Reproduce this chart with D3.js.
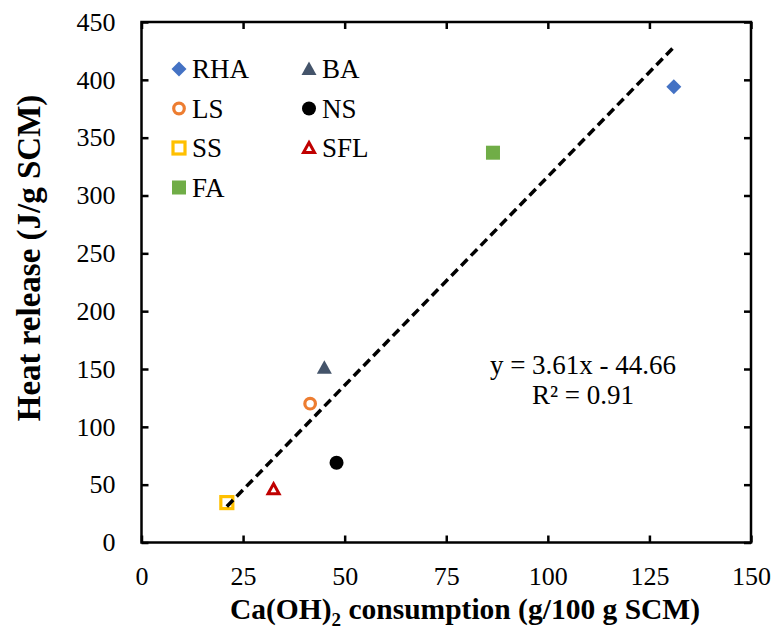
<!DOCTYPE html>
<html>
<head>
<meta charset="utf-8">
<script src="https://cdn.jsdelivr.net/npm/d3@7"></script>
<style>
  html, body { margin: 0; padding: 0; background: #fff; }
</style>
</head>
<body>
<svg id="chart" width="773" height="632"></svg>
<script>
// Materials (SCMs) and their measurements
const materials = ["RHA", "BA", "LS", "NS", "SS", "SFL", "FA"];
const caohConsumption = [131, 45, 41.5, 48, 21, 32.5, 86.5];   // g/100 g SCM
const heatRelease = [394, 151, 120, 69, 34.5, 46, 337];       // J/g SCM

// Marker styling per material
const markerShapes = ["diamond", "triangle", "ring", "dot", "hollowSquare", "hollowTriangle", "square"];
const markerColors = ["#4472C4", "#44546A", "#ED7D31", "#000000", "#FFC000", "#C00000", "#70AD47"];

// Linear fit
const fitSlope = 3.61;
const fitIntercept = -44.66;
const fitR2 = 0.91;
const fitRange = [21, 131];

const xTicks = [0, 25, 50, 75, 100, 125, 150];
const yTicks = [0, 50, 100, 150, 200, 250, 300, 350, 400, 450];

const SERIF = '"Liberation Serif", "Times New Roman", Times, serif';

const svg = d3.select("#chart");
const plot = { left: 141.5, right: 751, top: 22, bottom: 542.5 };

const x = d3.scaleLinear().domain([0, 150]).range([plot.left, plot.right]);
const y = d3.scaleLinear().domain([0, 450]).range([plot.bottom, plot.top]);

const tickLen = 7;
const axisW = 2.5;

// Axes: inward ticks on all four sides
function styleAxis(g) {
  g.attr("font-family", null).attr("font-size", null);
  g.select(".domain").remove();
  g.selectAll(".tick line").attr("stroke", "#000").attr("stroke-width", axisW);
  g.selectAll(".tick text").style("font-family", SERIF).style("font-size", "26px").attr("fill", "#000");
}
svg.append("g").attr("transform", `translate(0,${plot.bottom})`)
  .call(d3.axisBottom(x).tickValues(xTicks).tickSizeInner(-tickLen).tickSizeOuter(0).tickPadding(24))
  .call(styleAxis);
svg.append("g").attr("transform", `translate(${plot.left},0)`)
  .call(d3.axisLeft(y).tickValues(yTicks).tickSizeInner(-tickLen).tickSizeOuter(0).tickPadding(26))
  .call(styleAxis);
svg.append("g").attr("transform", `translate(0,${plot.top})`)
  .call(d3.axisTop(x).tickValues(xTicks).tickSizeInner(-tickLen).tickSizeOuter(0).tickFormat(""))
  .call(styleAxis);
svg.append("g").attr("transform", `translate(${plot.right},0)`)
  .call(d3.axisRight(y).tickValues(yTicks).tickSizeInner(-tickLen).tickSizeOuter(0).tickFormat(""))
  .call(styleAxis);

// Frame
svg.append("rect")
  .attr("x", plot.left).attr("y", plot.top)
  .attr("width", plot.right - plot.left).attr("height", plot.bottom - plot.top)
  .attr("fill", "none").attr("stroke", "#000").attr("stroke-width", axisW);

// Marker drawing
function drawMarker(g, shape, color, cx, cy) {
  const s = 7.5;
  switch (shape) {
    case "diamond":
      g.append("path").attr("d", `M${cx},${cy - s}L${cx + s},${cy}L${cx},${cy + s}L${cx - s},${cy}Z`).attr("fill", color);
      break;
    case "triangle":
      g.append("path").attr("d", `M${cx},${cy - 7.5}L${cx + 7.5},${cy + 6}L${cx - 7.5},${cy + 6}Z`).attr("fill", color);
      break;
    case "hollowTriangle":
      g.append("path").attr("d", `M${cx},${cy - 5.5}L${cx + 5.5},${cy + 4.5}L${cx - 5.5},${cy + 4.5}Z`)
        .attr("fill", "#fff").attr("stroke", color).attr("stroke-width", 3).attr("stroke-linejoin", "miter");
      break;
    case "ring":
      g.append("circle").attr("cx", cx).attr("cy", cy).attr("r", 5.3).attr("fill", "#fff").attr("stroke", color).attr("stroke-width", 3.2);
      break;
    case "dot":
      g.append("circle").attr("cx", cx).attr("cy", cy).attr("r", 7).attr("fill", color);
      break;
    case "hollowSquare":
      g.append("rect").attr("x", cx - 6).attr("y", cy - 6).attr("width", 12).attr("height", 12)
        .attr("fill", "#fff").attr("stroke", color).attr("stroke-width", 3.2);
      break;
    case "square":
      g.append("rect").attr("x", cx - 7).attr("y", cy - 7).attr("width", 14).attr("height", 14).attr("fill", color);
      break;
  }
}

// Data points
const pts = svg.append("g");
materials.forEach((m, i) => {
  drawMarker(pts, markerShapes[i], markerColors[i], x(caohConsumption[i]), y(heatRelease[i]));
});

// Trend line (drawn over markers)
svg.append("line")
  .attr("x1", x(fitRange[0])).attr("y1", y(fitSlope * fitRange[0] + fitIntercept))
  .attr("x2", x(fitRange[1])).attr("y2", y(fitSlope * fitRange[1] + fitIntercept))
  .attr("stroke", "#000").attr("stroke-width", 3.5).attr("stroke-dasharray", "9,5");

// Fit equation
const eq = svg.append("g").style("font-family", SERIF).style("font-size", "27px").attr("text-anchor", "middle");
eq.append("text").attr("x", 583).attr("y", 374)
  .text(`y = ${fitSlope.toFixed(2)}x - ${Math.abs(fitIntercept).toFixed(2)}`);
eq.append("text").attr("x", 583).attr("y", 404)
  .text(`R² = ${fitR2.toFixed(2)}`);

// Legend: two columns
const legend = svg.append("g").style("font-family", SERIF).style("font-size", "27px");
const legCols = [179, 309];
const legRows = [69, 108.5, 148, 187.5];
materials.forEach((m, i) => {
  const col = i === 6 ? 0 : i % 2;
  const row = Math.floor(i / 2);
  const lx = legCols[col], ly = legRows[row];
  drawMarker(legend, markerShapes[i], markerColors[i], lx, ly);
  legend.append("text").attr("x", lx + 13).attr("y", ly).attr("dy", "0.35em").text(m);
});

// Axis titles
const xt = svg.append("text").attr("x", 465).attr("y", 619).attr("text-anchor", "middle")
  .style("font-family", SERIF).style("font-size", "29.5px").style("font-weight", "bold");
xt.append("tspan").text("Ca(OH)");
xt.append("tspan").style("font-size", "19px").attr("dy", 7).text("2");
xt.append("tspan").attr("dy", -7).text(" consumption (g/100 g SCM)");

svg.append("text")
  .attr("transform", `translate(40,258) rotate(-90)`)
  .attr("text-anchor", "middle")
  .style("font-family", SERIF).style("font-size", "33px").style("font-weight", "bold")
  .text("Heat release (J/g SCM)");
</script>
</body>
</html>
